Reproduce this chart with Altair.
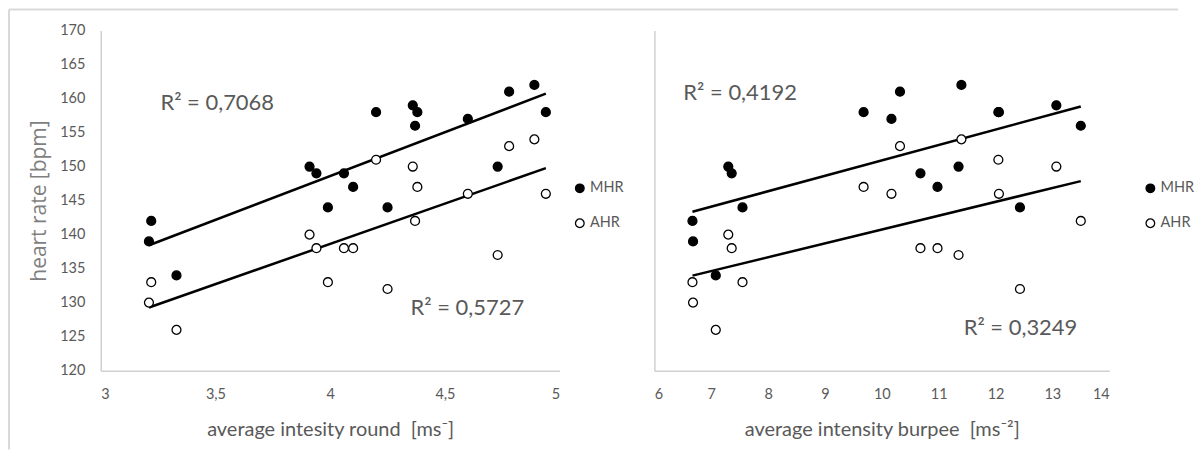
import altair as alt
import pandas as pd

# ---------------- data ----------------
round_x = [3.21, 3.22, 3.33, 3.91, 3.94, 3.99, 4.06, 4.10, 4.20, 4.25,
           4.36, 4.38, 4.37, 4.60, 4.73, 4.78, 4.89, 4.94]
burpee_x = [6.68, 6.67, 7.08, 7.30, 7.36, 7.55, 10.68, 10.98, 12.05, 12.43,
            13.07, 9.68, 13.50, 10.17, 11.35, 10.32, 11.40, 12.06]
mhr = [139, 142, 134, 150, 149, 144, 149, 147, 158, 144,
       159, 158, 156, 157, 150, 161, 162, 158]
ahr = [130, 133, 126, 140, 138, 133, 138, 138, 151, 132,
       150, 147, 142, 146, 137, 153, 154, 146]
series_names = ["MHR", "AHR"]

hr_ticks = [120, 125, 130, 135, 140, 145, 150, 155, 160, 165, 170]
round_ticks = [3, 3.5, 4, 4.5, 5]
burpee_ticks = [6, 7, 8, 9, 10, 11, 12, 13, 14]

round_r2 = ["R² = 0,7068", "R² = 0,5727"]
burpee_r2 = ["R² = 0,4192", "R² = 0,3249"]

# anchor of the R² annotations, in data units
round_r2_x = [3.26, 4.35]
round_r2_y = [159.3, 129.2]
burpee_r2_x = [6.51, 11.44]
burpee_r2_y = [160.8, 126.3]

rows = []
for panel, xs in (("round", round_x), ("burpee", burpee_x)):
    for s, vals in (("MHR", mhr), ("AHR", ahr)):
        for xv, hv in zip(xs, vals):
            rows.append({"panel": panel, "series": s, "x": xv, "hr": hv})
df = pd.DataFrame(rows)

GRAY = "#595959"
FONT = "Lato"


def make_panel(name, xdomain, xticks, xtitle, r2_text, r2_x, r2_y, first, legend_x, width):
    xscale = alt.Scale(domain=xdomain, nice=False, zero=False)
    yscale = alt.Scale(domain=[120, 170], nice=False, zero=False)
    xaxis = alt.Axis(values=xticks, title=xtitle,
                     labelExpr="replace(format(datum.value, '~g'), '.', ',')",
                     labelPadding=17, titlePadding=19)
    if first:
        yaxis = alt.Axis(values=hr_ticks, title="heart rate [bpm]",
                         labelPadding=16, titlePadding=10)
    else:
        yaxis = alt.Axis(values=hr_ticks, labels=False, title=None)
    X = alt.X("x:Q", scale=xscale, axis=xaxis)
    Y = alt.Y("hr:Q", scale=yscale, axis=yaxis)

    base = alt.Chart(df).transform_filter(alt.datum.panel == name)

    points = base.mark_point(shape="circle", filled=True, stroke="black",
                             strokeWidth=1.3, opacity=1, fillOpacity=1, size=80).encode(
        x=X, y=Y,
        fill=alt.Fill("series:N",
                      scale=alt.Scale(domain=series_names, range=["black", "white"]),
                      legend=alt.Legend(title=None, orient="none", legendX=legend_x, legendY=151,
                                        symbolType="circle", symbolSize=75,
                                        symbolStrokeColor="black", symbolStrokeWidth=1.3,
                                        labelFont=FONT, labelFontSize=14.5, labelColor=GRAY,
                                        labelOffset=3, rowPadding=19, padding=0)),
    )

    lines = base.transform_regression("x", "hr", groupby=["series"]).mark_line(
        color="black", strokeWidth=2.5).encode(x=X, y=Y, detail="series:N")

    tdf = pd.DataFrame({"label": r2_text, "x": r2_x, "hr": r2_y})
    texts = alt.Chart(tdf).mark_text(align="left", baseline="middle", font=FONT,
                                     fontSize=22, color=GRAY).encode(
        x=X, y=Y, text="label:N")

    layers = []
    if first:
        one = alt.Data(values=[{"a": 1}])
        frame_top = alt.Chart(one).mark_rule(color="#d9d9d9", strokeWidth=2).encode(
            x=alt.value(-92), x2=alt.value(1080), y=alt.value(-21))
        frame_left = alt.Chart(one).mark_rule(color="#d9d9d9", strokeWidth=2).encode(
            x=alt.value(-92), y=alt.value(-21), y2=alt.value(420))
        layers += [frame_top, frame_left]
    layers += [lines, points, texts]
    return alt.layer(*layers).properties(width=width, height=341)


left = make_panel("round", [3, 5], round_ticks, "average intesity round\u00a0 [ms⁻]",
                  round_r2, round_r2_x, round_r2_y, True, 473, 460)
right = make_panel("burpee", [6, 14], burpee_ticks, "average intensity burpee\u00a0 [ms⁻²]",
                   burpee_r2, burpee_r2_x, burpee_r2_y, False, 490, 456)

chart = alt.hconcat(left, right, spacing=95, bounds="flush").resolve_scale(
    fill="independent").resolve_legend(fill="independent").properties(
    padding=0, background="white"
).configure_view(stroke=None).configure_axis(
    domainColor="#d0d0d0", domainWidth=1.5, grid=False, ticks=False, tickSize=0,
    labelColor=GRAY, labelFont=FONT, labelFontSize=14.5,
    titleColor=GRAY, titleFont=FONT, titleFontSize=20, titleFontWeight="normal",
).configure_axisY(titleFont="Open Sans", titleFontSize=21, titleColor="#7f7f7f")

chart.save("out.html", embed_options={"renderer": "svg", "actions": False})
